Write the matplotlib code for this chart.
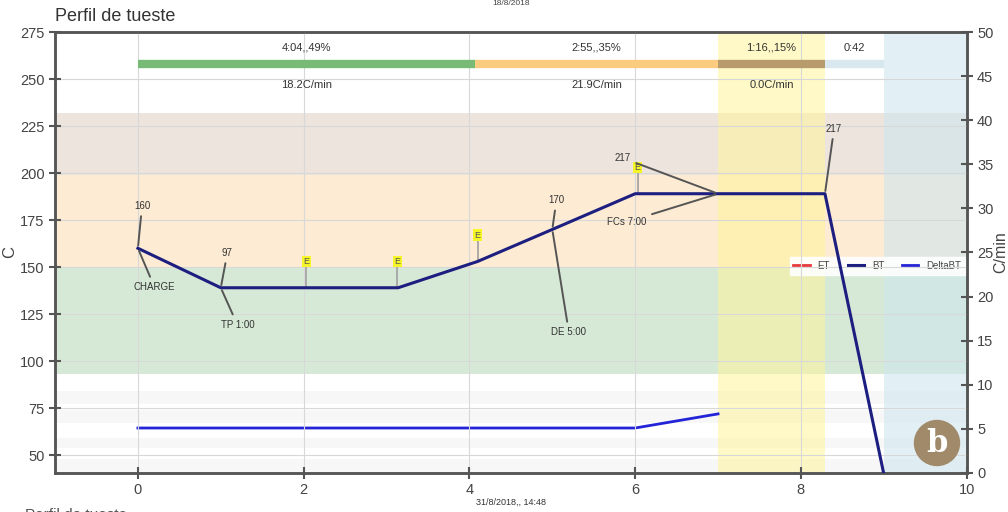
import matplotlib.pyplot as plt
from matplotlib.patches import Circle

plt.rcParams['font.family'] = ['Liberation Sans', 'DejaVu Sans']

# BT curve (C) and rate of rise (C/min) against time (min)
bt_time = [0, 1.0, 3.14, 4.1, 5.0, 6.0, 7.0, 8.29, 9.0]
bt_temp = [160, 139, 139, 153, 170, 189, 189, 189, 40]
ror_time = [0, 6.0, 7.0]
ror_vals = [5.1, 5.1, 6.7]

# temperature bands (C)
bands = [(93, 150, '#d6e9d6'), (150, 199, '#fdebd3'), (199, 232, '#ece4dd')]
stripes = [(41, 48), (54, 59), (67, 74), (77, 84)]

# phases
phase_start = [0, 4.07, 7.0, 8.29]
phase_end = [4.07, 7.0, 8.29, 9.0]
phase_colors = ['#77bb77', '#fbcc80', '#b89b6c', '#d8e8ee']
phase_top = ['4:04,,49%', '2:55,,35%', '1:16,,15%', '0:42']
phase_rate = ['18.2C/min', '21.9C/min', '0.0C/min', '']

# event markers: x, y of line, y of label
events = [(2.03, 139, 153), (3.13, 139, 153), (4.1, 153, 167), (6.03, 189, 203)]


def main():
    fig = plt.figure(figsize=(10.08, 5.12), dpi=100)
    ax = fig.add_axes([0.0546, 0.0762, 0.9044, 0.8613])
    ax2 = ax.twinx()
    ax.set_zorder(ax2.get_zorder() + 1)
    ax.patch.set_visible(False)

    ax.set_xlim(-1, 10)
    ax.set_ylim(40.5, 275)
    ax2.set_ylim(0, 50)

    def to_right(t):
        return (t - 40.5) / 234.5 * 50

    for lo, hi, c in bands:
        ax2.axhspan(to_right(lo), to_right(hi), color=c, zorder=0, lw=0)
    for lo, hi in stripes:
        ax2.axhspan(to_right(lo), to_right(hi), color='#f7f7f7', zorder=0, lw=0)
    ax2.axvspan(7.0, 8.29, color='#fff59a', alpha=0.55, zorder=1, lw=0)
    ax2.axvspan(9.0, 10.5, color='#cfe6ef', alpha=0.6, zorder=1, lw=0)

    ax.set_xticks([0, 2, 4, 6, 8, 10])
    ax.set_yticks(range(50, 276, 25))
    ax2.set_yticks(range(0, 51, 5))
    ax.grid(True, color='#d8d8d8', lw=0.8)
    ax.set_axisbelow(True)

    for a in (ax, ax2):
        for s in a.spines.values():
            s.set_color('#555555')
            s.set_linewidth(1.8)
        a.tick_params(direction='inout', length=8, width=1.5, color='#555555',
                      labelcolor='#444444', labelsize=10.5)

    # phase bars
    for s, e, c, t, r in zip(phase_start, phase_end, phase_colors, phase_top, phase_rate):
        ax.plot([s, e], [258, 258], color=c, lw=6, solid_capstyle='butt', zorder=3)
        ax.text((s + e) / 2, 266.5, t, ha='center', va='center', fontsize=8, color='#333333')
        if r:
            ax.text((s + e) / 2, 247, r, ha='center', va='center', fontsize=8, color='#333333')

    ax2.plot([], [], color='#e8383b', lw=2, label='ET')
    ax.plot(bt_time, bt_temp, color='#1c1e80', lw=2.2, zorder=5, label='BT')
    ax2.plot(ror_time, ror_vals, color='#2323d8', lw=2, label='DeltaBT')

    # event flags
    for x, y, ly in events:
        ax.plot([x, x], [y, ly - 3], color='#a0a0a0', lw=1.2, zorder=4)
        ax.text(x, ly, 'E', ha='center', va='center', fontsize=6.5, color='#555555', zorder=6,
                bbox=dict(boxstyle='square,pad=0.15', fc='#f5f528', ec='none'))

    ann = dict(fontsize=7, color='#333333', zorder=6,
               arrowprops=dict(arrowstyle='-', color='#555555', lw=1.4))
    ax.annotate('160', xy=(0, 160), xytext=(0.05, 180), ha='center', va='bottom', **ann)
    ax.annotate('CHARGE', xy=(0, 160), xytext=(0.2, 142), ha='center', va='top', **ann)
    ax.annotate('97', xy=(1.0, 139), xytext=(1.08, 155), ha='center', va='bottom', **ann)
    ax.annotate('TP 1:00', xy=(1.0, 139), xytext=(1.2, 122), ha='center', va='top', **ann)
    ax.annotate('170', xy=(5.0, 170), xytext=(5.05, 183), ha='center', va='bottom', **ann)
    ax.annotate('DE 5:00', xy=(5.0, 170), xytext=(5.2, 118), ha='center', va='top', **ann)
    ax.annotate('217', xy=(7.0, 189), xytext=(5.85, 208), ha='center', va='center', **ann)
    ax.annotate('FCs 7:00', xy=(7.0, 189), xytext=(5.9, 174), ha='center', va='center', **ann)
    ax.annotate('217', xy=(8.29, 189), xytext=(8.4, 221), ha='center', va='bottom', **ann)

    h1, l1 = ax2.get_legend_handles_labels()
    h0, l0 = ax.get_legend_handles_labels()
    leg = ax2.legend([h1[0], h0[0], h1[1]], [l1[0], l0[0], l1[1]], ncol=3,
                     loc='center right', bbox_to_anchor=(1.0, 0.47), fontsize=7,
                     frameon=True, fancybox=False, edgecolor='white', framealpha=0.9,
                     handlelength=1.7, columnspacing=1.8, borderaxespad=0.2)
    for t in leg.get_texts():
        t.set_color('#444444')

    ax.set_ylabel('C', fontsize=12, color='#444444', labelpad=2)
    ax2.set_ylabel('C/min', fontsize=11.5, color='#444444', labelpad=0)

    fig.text(0.055, 0.952, 'Perfil de tueste', fontsize=13, color='#333333', va='bottom')
    fig.text(0.507, 0.993, '18/8/2018', fontsize=6, color='#444444', ha='center', va='center')
    fig.text(0.507, 0.018, '31/8/2018,, 14:48', fontsize=6.5, color='#333333', ha='center', va='center')
    fig.text(0.025, -0.006, 'Perfil de tueste', fontsize=11, color='#555555', va='center')

    # panel badge
    fig.patches.append(Circle((9.37, 0.69), 0.225, transform=fig.dpi_scale_trans,
                              color='#a08a6a', zorder=30))
    fig.text(9.37, 0.68, 'b', transform=fig.dpi_scale_trans, fontsize=22, fontweight='bold',
             family='DejaVu Serif', color='white', ha='center', va='center', zorder=31)

    fig.savefig('out.png', dpi=100)


if __name__ == '__main__':
    main()
